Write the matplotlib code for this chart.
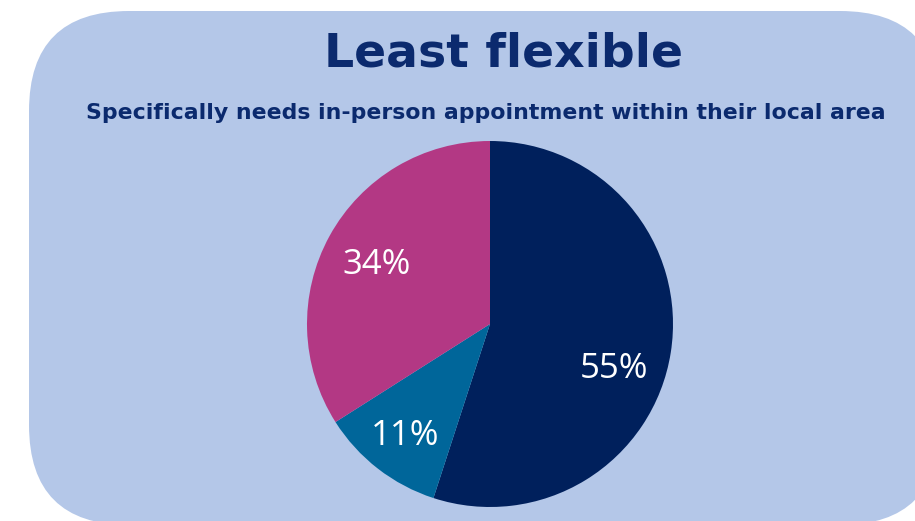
import matplotlib.pyplot as plt
from matplotlib.patches import FancyBboxPatch

# slice values, clockwise from 12 o'clock
labels = ["Local in-person", "Other", "Any in-person"]
values = [55, 11, 34]
colors = ["#00205C", "#00669A", "#B33884"]

W, H = 915, 521
fig = plt.figure(figsize=(W / 100, H / 100), dpi=100)
ax = fig.add_axes([0, 0, 1, 1])

# rounded light-blue panel, running off the right and bottom edges
R = 100
left, right, top, bottom = 29, 940, 521 - 11, -4
panel = FancyBboxPatch((left + R, bottom + R), right - left - 2 * R, top - bottom - 2 * R,
                       boxstyle=f"round,pad={R}", facecolor="#B4C7E8",
                       edgecolor="none")
ax.add_patch(panel)

wedges, texts, autotexts = ax.pie(
    values, colors=colors, center=(490, 521 - 324), radius=183,
    startangle=90, counterclock=False, autopct="%d%%", pctdistance=0.72,
    textprops=dict(color="white", fontsize=25, family="Open Sans"),
    wedgeprops=dict(linewidth=0),
)
# nudge labels to where the original placed them (pixels)
nudges = [(-6, -24), (-4, -8), (2, -4)]
for t, (dx, dy) in zip(autotexts, nudges):
    x, y = t.get_position()
    t.set_position((x + dx, y + dy))

ax.text(504, 521 - 54, "Least flexible", ha="center", va="center",
        fontsize=34, fontweight="bold", color="#0B2A6E", family="DejaVu Sans")
ax.text(486, 521 - 113, "Specifically needs in-person appointment within their local area",
        ha="center", va="center", fontsize=15.8, fontweight="bold",
        color="#0B2A6E", family="DejaVu Sans")

ax.set_xlim(0, W)
ax.set_ylim(0, H)
ax.set_aspect("auto")
ax.axis("off")

plt.savefig("out.png", dpi=100)
plt.close()
